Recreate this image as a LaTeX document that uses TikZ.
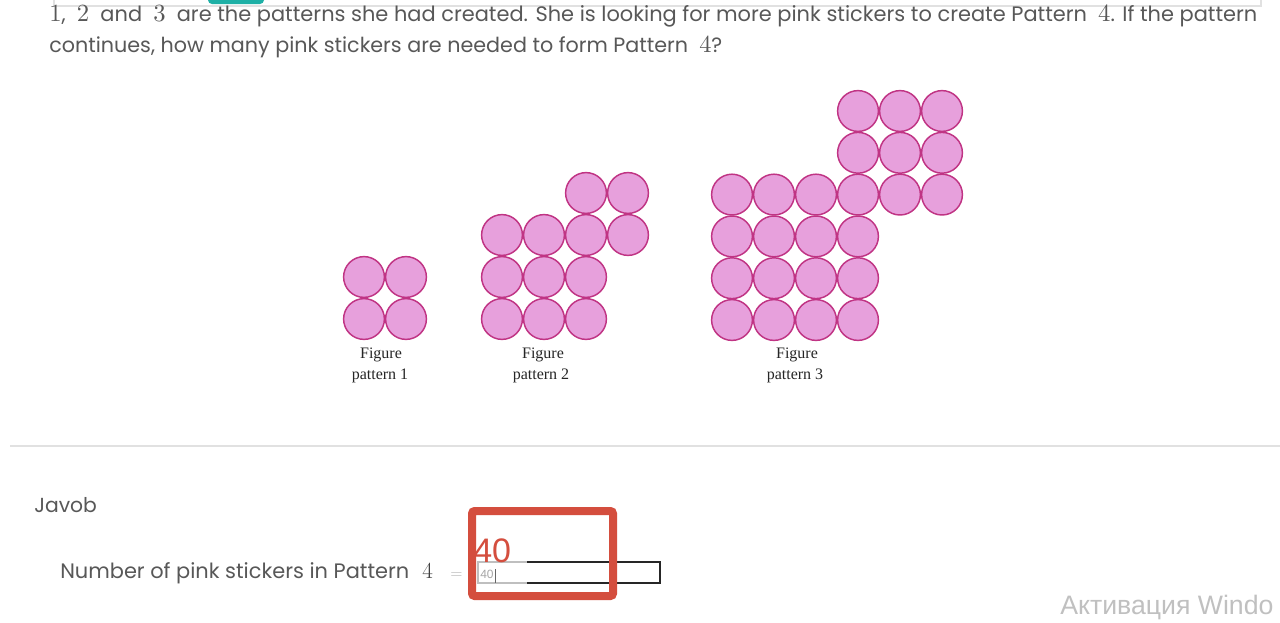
\documentclass[tikz,border=0pt]{standalone}
\usepackage{fontspec}
\setmainfont{Liberation Serif}
\newfontfamily\qfont{Poppins}
\newfontfamily\wfont{Liberation Sans}
\usepackage{graphicx}
\newcommand\mdg[1]{\scalebox{1.18}{$#1$}}
\definecolor{pinkfill}{RGB}{231,160,220}
\definecolor{pinkline}{RGB}{192,52,132}
\definecolor{redmark}{RGB}{212,78,62}
\definecolor{txtgray}{RGB}{88,88,88}
\definecolor{rulegray}{RGB}{225,225,225}
\definecolor{tealtab}{RGB}{30,176,166}
\definecolor{wmgray}{RGB}{192,192,192}
\begin{document}
\begin{tikzpicture}[x=0.75pt,y=-0.75pt,
  sticker/.style={circle,draw=pinkline,fill=pinkfill,line width=1.1pt,minimum size=30.6pt,inner sep=0pt},
  figlabel/.style={font=\fontsize{12}{14}\selectfont,text=black!85,inner sep=0pt,anchor=base},
  qtext/.style={anchor=base west,inner sep=0pt,text=txtgray}]
\useasboundingbox (0,0) rectangle (1280,622);
\fill[white] (0,0) rectangle (1280,622);
\clip (0,0) rectangle (1280,622);
% top frame
\draw[rulegray,line width=0.9pt] (54,-2) -- (54,6) -- (1261,6) -- (1261,-2);
\fill[tealtab,rounded corners=3pt] (208,-10) rectangle (264,4);
% question
\node[qtext] (q1) at (49,21) {\resizebox{906pt}{!}{\qfont \mdg{1},\ \ \mdg{2}\ \ and\ \ \mdg{3}\ \ are the patterns she had created. She is looking for more pink stickers to create Pattern\ \ \mdg{4}. If the pattern}};
\node[qtext] (q2) at (49,52) {\resizebox{504.75pt}{!}{\qfont continues, how many pink stickers are needed to form Pattern\ \ \mdg{4}?}};
% pattern 1
\foreach \i in {0,1} \foreach \j in {0,1}
  \node[sticker] (pA-\i-\j) at ({364+42*\i},{319-42*\j}) {};
\node[figlabel] (lA1) at (381,358) {Figure};
\node[figlabel] (lA2) at (380,379) {pattern 1};
% pattern 2
\foreach \i in {0,1,2} \foreach \j in {0,1,2}
  \node[sticker] (pB-\i-\j) at ({502+42*\i},{319-42*\j}) {};
\foreach \i/\j in {3/2,2/3,3/3}
  \node[sticker] (pB-\i-\j) at ({502+42*\i},{319-42*\j}) {};
\node[figlabel] (lB1) at (543,358) {Figure};
\node[figlabel] (lB2) at (541,379) {pattern 2};
% pattern 3
\foreach \i in {0,...,3} \foreach \j in {0,...,3}
  \node[sticker] (pC-\i-\j) at ({732+42*\i},{320-41.8*\j}) {};
\foreach \i/\j in {4/3,5/3,3/4,4/4,5/4,3/5,4/5,5/5}
  \node[sticker] (pC-\i-\j) at ({732+42*\i},{320-41.8*\j}) {};
\node[figlabel] (lC1) at (797,358) {Figure};
\node[figlabel] (lC2) at (795,379) {pattern 3};
% separator
\draw[rulegray,line width=1.1pt] (10,446) -- (1280,446);
% answer
\node[qtext] (jav) at (34,512) {\resizebox{47pt}{!}{\qfont Javob}};
\node[qtext] (num) at (60,578) {\resizebox{261.75pt}{!}{\qfont Number of pink stickers in Pattern}};
\node[qtext,text=black!75,font=\fontsize{18}{20}\selectfont] (four) at (422,578) {$4$};
\node[qtext,text=black!30,font=\fontsize{12}{14}\selectfont] (eq) at (450,578) {$=$};
% input box
\draw[black!25,line width=0.8pt] (478,562) rectangle (660,583);
\draw[black!85,line width=1.2pt] (527,562) -- (660,562) -- (660,583) -- (527,583);
\node[qtext,text=black!35,font=\wfont\fontsize{9}{10}\selectfont] (inval) at (480,578) {40};
\draw[black!60,line width=0.5pt] (inval.north east) ++(1,0) -- ++(0,14);
% highlight
\draw[redmark,line width=6pt,rounded corners=2pt] (472,511) rectangle (613,596);
\node[qtext,text=redmark,font=\wfont\fontsize{25.5}{28}\selectfont] (ans) at (473,562) {40};
% watermark
\node[qtext,text=wmgray,font=\wfont\fontsize{20}{22}\selectfont] (wm) at (1060,614) {Активация Windo};
\end{tikzpicture}
\end{document}
